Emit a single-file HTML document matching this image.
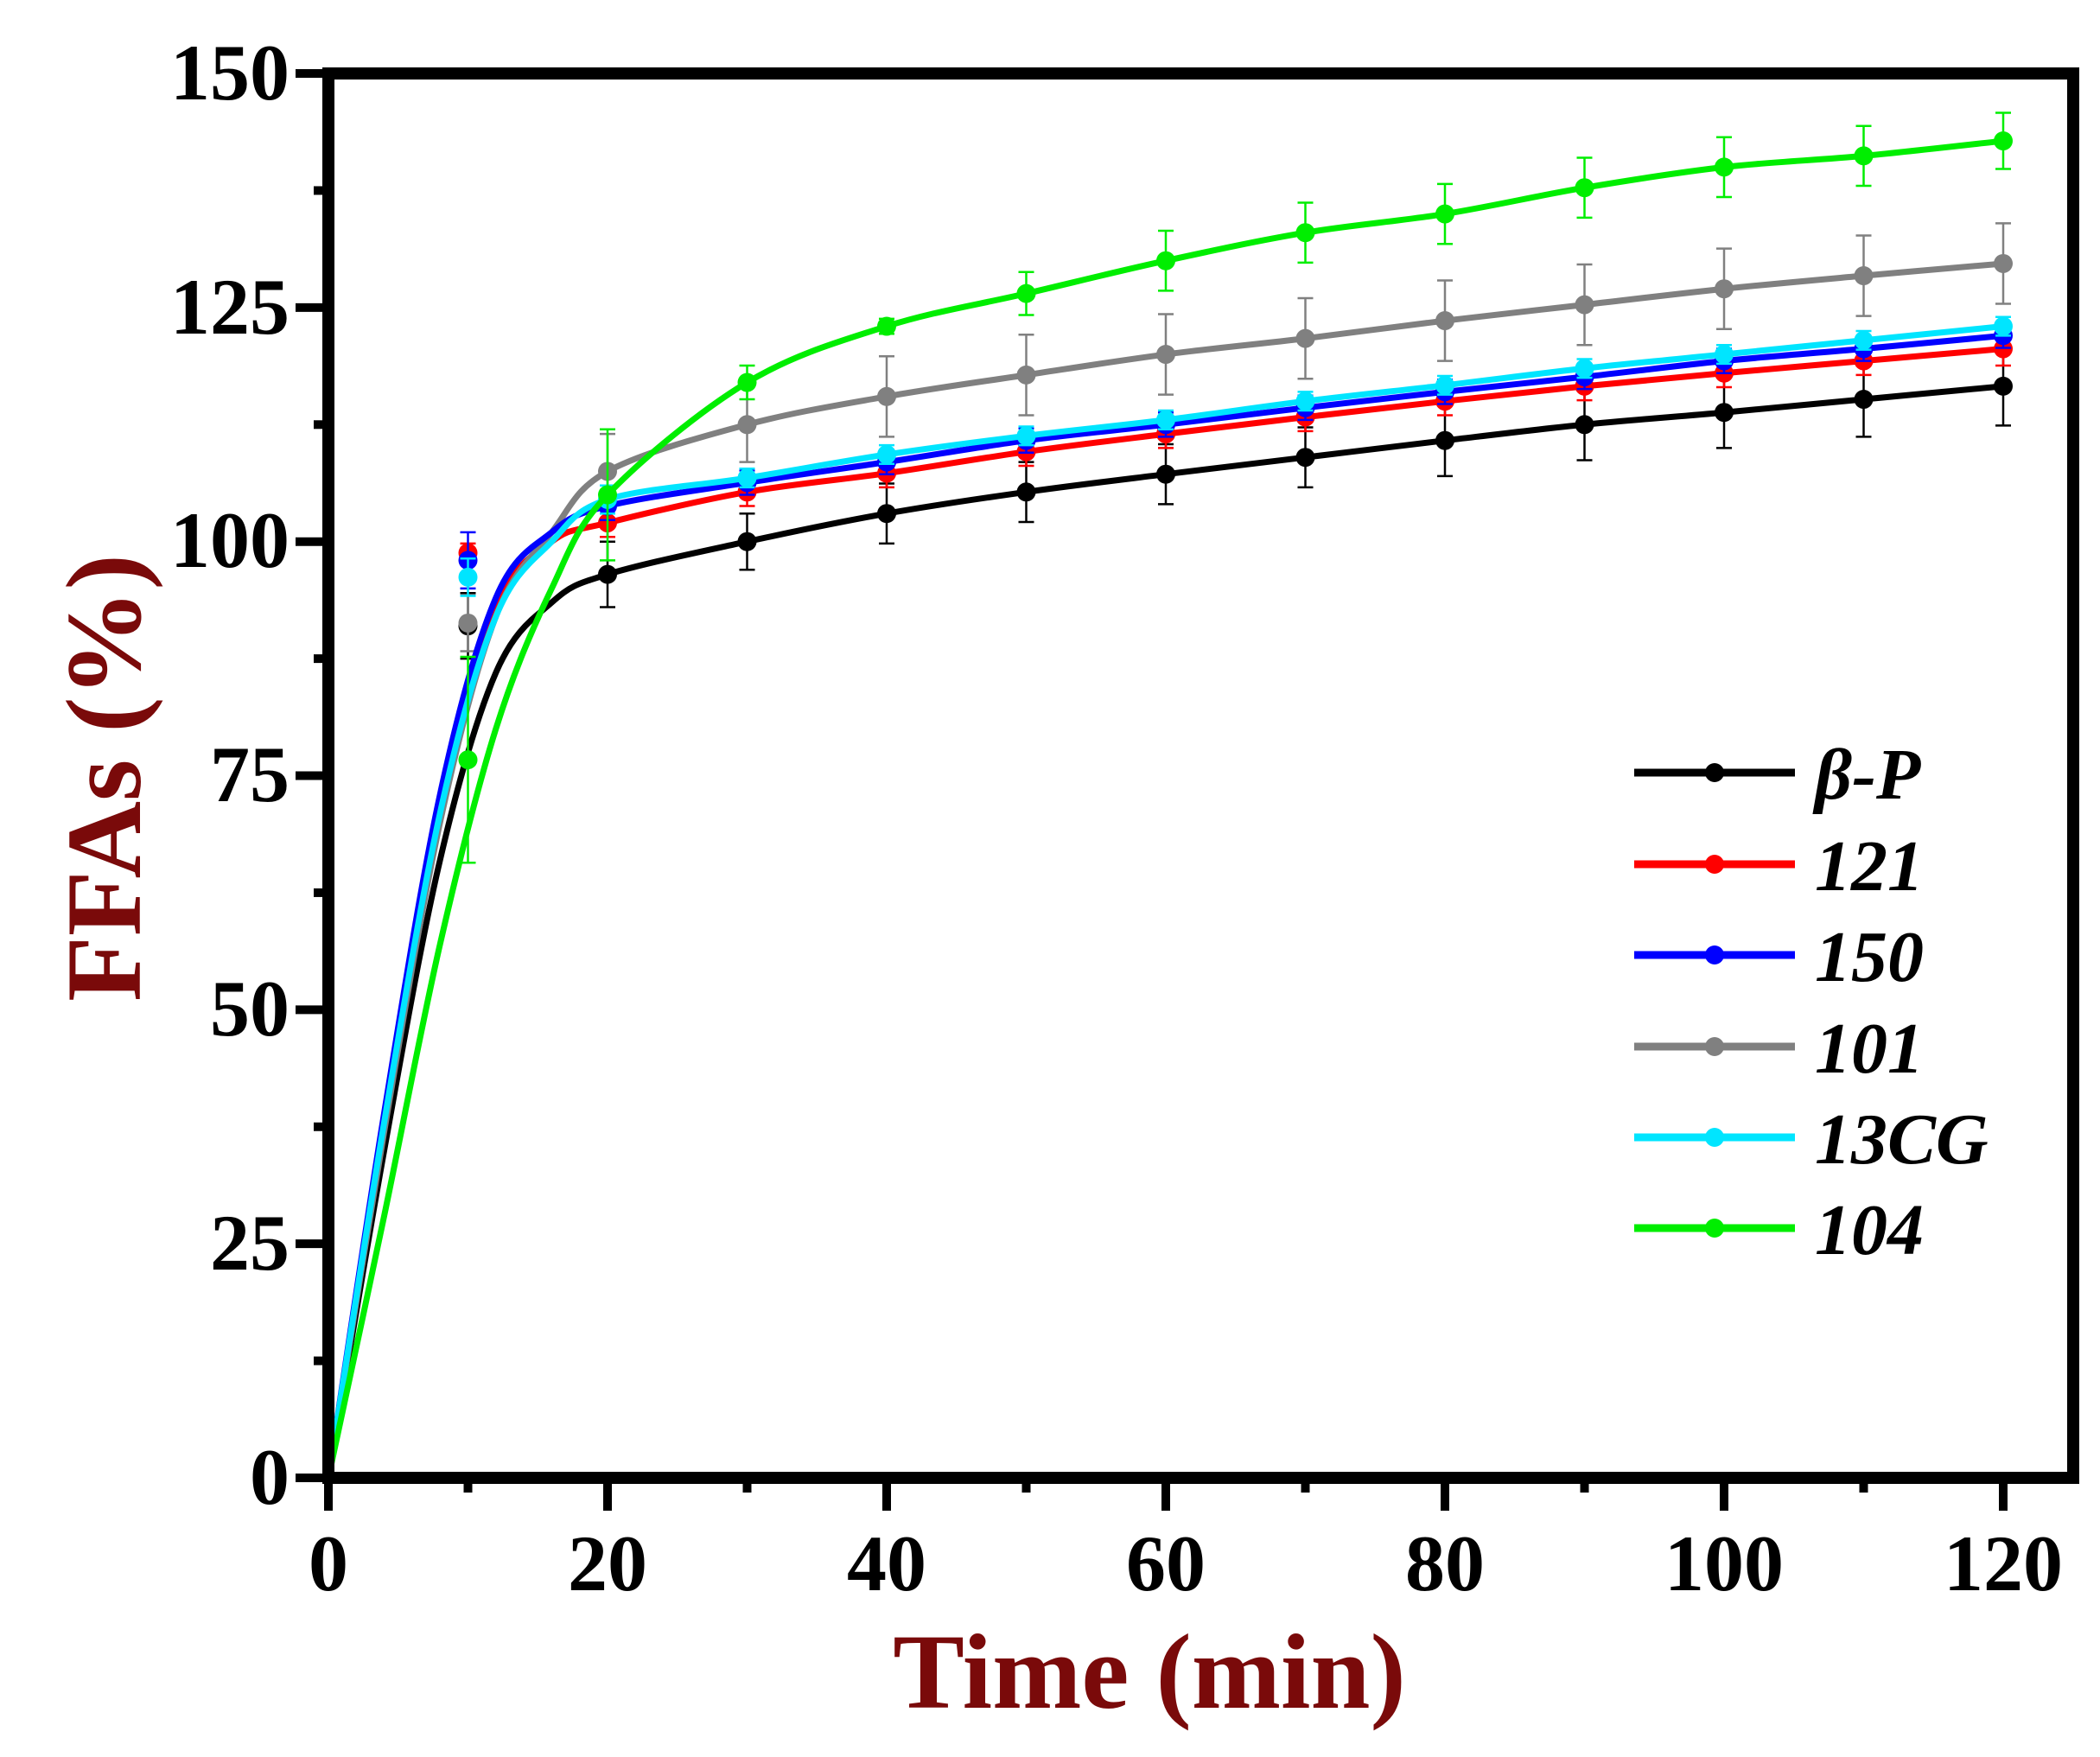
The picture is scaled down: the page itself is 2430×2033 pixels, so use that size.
<!DOCTYPE html>
<html><head><meta charset="utf-8"><style>
html,body{margin:0;padding:0;background:#fff;width:2430px;height:2033px;overflow:hidden}
svg{display:block}
text{font-family:"Liberation Serif",serif;font-weight:bold}
</style></head><body>
<svg id="s" width="2430" height="2033" viewBox="0 0 2430 2033" xmlns="http://www.w3.org/2000/svg">
<g id="data"></g>
<rect x="380" y="85" width="2019" height="1625" fill="none" stroke="#000" stroke-width="14"/>
<g id="ticks" stroke="#000" stroke-width="10"></g>
<g font-size="92" fill="#000" text-anchor="end">
<text x="335" y="1740">0</text><text x="335" y="1469">25</text><text x="335" y="1198">50</text>
<text x="335" y="927">75</text><text x="335" y="656">100</text><text x="335" y="386">125</text><text x="335" y="115">150</text>
</g>
<g font-size="92" fill="#000" text-anchor="middle">
<text x="380" y="1840">0</text><text x="703" y="1840">20</text><text x="1026" y="1840">40</text>
<text x="1349" y="1840">60</text><text x="1672" y="1840">80</text><text x="1995" y="1840">100</text><text x="2318" y="1840">120</text>
</g>
<text x="1330" y="1976" font-size="124" fill="#7a0a0a" text-anchor="middle">Time (min)</text>
<text transform="translate(162,900) rotate(-90)" font-size="124" fill="#7a0a0a" text-anchor="middle">FFAs (%)</text>
<g id="legend" font-size="84" font-style="italic"></g>
</svg>
<script>
var NS="http://www.w3.org/2000/svg";
function X(x){return 380+x*16.15}
function Y(v){return 1710-v*10.833}
function el(p,t,a){var e=document.createElementNS(NS,t);for(var k in a)e.setAttribute(k,a[k]);p.appendChild(e);return e}
var tk=document.getElementById('ticks');
for(var i=0;i<=12;i++){var x=X(i*10),L=i%2?10:31;el(tk,'line',{x1:x,y1:1717,x2:x,y2:1717+L});}
for(var i=0;i<=12;i++){var y=Y(i*12.5),L=i%2?10:31;el(tk,'line',{x1:373,y1:y,x2:373-L,y2:y});}
var xs=[10,20,30,40,50,60,70,80,90,100,110,120];
var S=[
{n:'β-P',c:'#000',e:[3.5,3.5,3,3.2,3.2,3.2,3.2,3.8,3.8,3.8,4,4.2],p:[91,96.5,100,103,105.3,107.2,109,110.8,112.5,113.8,115.2,116.6],f:[[4,35],[8,66],[12,86],[16,93.5]]},
{n:'121',c:'#ff0000',e:[1,1.5,1.5,1.5,1.5,1.5,1.5,1.5,1.5,1.5,1.5,1.8],p:[98.8,102,105.3,107.3,109.6,111.5,113.3,115,116.6,118,119.3,120.6],f:[[4,38],[8,72],[12,93],[16,100]]},
{n:'101',c:'#808080',e:[3,4,4,4.3,4.3,4.3,4.3,4.3,4.3,4.3,4.3,4.3],p:[91.3,107.5,112.5,115.5,117.8,120,121.7,123.6,125.3,127,128.4,129.7],f:[[4,37],[8,70],[12,92],[16,101]]},
{n:'150',c:'#0000ff',e:[3,1.5,1.3,1.3,1.3,1.3,1.3,1.3,1.3,1.3,1.3,1.3],p:[98,103.8,106.3,108.5,110.8,112.5,114.3,116,117.6,119.3,120.6,122],f:[[4,39],[8,73],[12,94],[16,101]]},
{n:'13CG',c:'#00e5ff',e:[2,1.5,1,1,1,1,1,1,1,1,1,1],p:[96.2,104.5,106.8,109.3,111.3,113,115,116.7,118.5,120,121.5,123],f:[[4,38],[8,71],[12,92],[16,100]]},
{n:'104',c:'#00ee00',e:[11,7,1.8,0.8,2.3,3.2,3.2,3.2,3.2,3.2,3.2,3]},
];
S[5].p=[76.7,105,117,123,126.5,130,133,135,137.8,140,141.2,142.8];S[5].f=[[4,28],[8,57],[12,80],[16,95]];
var g=document.getElementById('data');
S.forEach(function(s){
 var pts=[[0,0]].concat(s.f);for(var i=1;i<12;i++)pts.push([xs[i],s.p[i]]);
 var d='M'+X(0)+','+Y(0);
 for(var i=1;i<pts.length;i++){var p0=pts[Math.max(i-2,0)],p1=pts[i-1],p2=pts[i],p3=pts[Math.min(i+1,pts.length-1)];
  var c1x=X(p1[0])+(X(p2[0])-X(p0[0]))/6,c1y=Y(p1[1])+(Y(p2[1])-Y(p0[1]))/6;
  var c2x=X(p2[0])-(X(p3[0])-X(p1[0]))/6,c2y=Y(p2[1])-(Y(p3[1])-Y(p1[1]))/6;
  d+=' C'+c1x+','+c1y+' '+c2x+','+c2y+' '+X(p2[0])+','+Y(p2[1]);}
 el(g,'path',{d:d,fill:'none',stroke:s.c,'stroke-width':7});
 for(var i=0;i<12;i++){var x=X(xs[i]),y=Y(s.p[i]),e=s.e[i]*10.833;
  el(g,'path',{d:'M'+x+','+(y-e)+'V'+(y+e)+'M'+(x-9)+','+(y-e)+'h18M'+(x-9)+','+(y+e)+'h18',stroke:s.c,'stroke-width':2.5,fill:'none'});
  el(g,'circle',{cx:x,cy:y,r:11,fill:s.c});}
});
var lg=document.getElementById('legend');
var order=[0,1,3,2,4,5],ys=[894,1000,1105,1211,1316,1421];
order.forEach(function(k,i){var s=S[k];
 el(lg,'line',{x1:1891,y1:ys[i],x2:2077,y2:ys[i],stroke:s.c,'stroke-width':9});
 el(lg,'circle',{cx:1984,cy:ys[i],r:11,fill:s.c});
 var t=el(lg,'text',{x:2100,y:ys[i]+30,fill:'#000'});t.textContent=s.n;});
</script>
</body></html>
